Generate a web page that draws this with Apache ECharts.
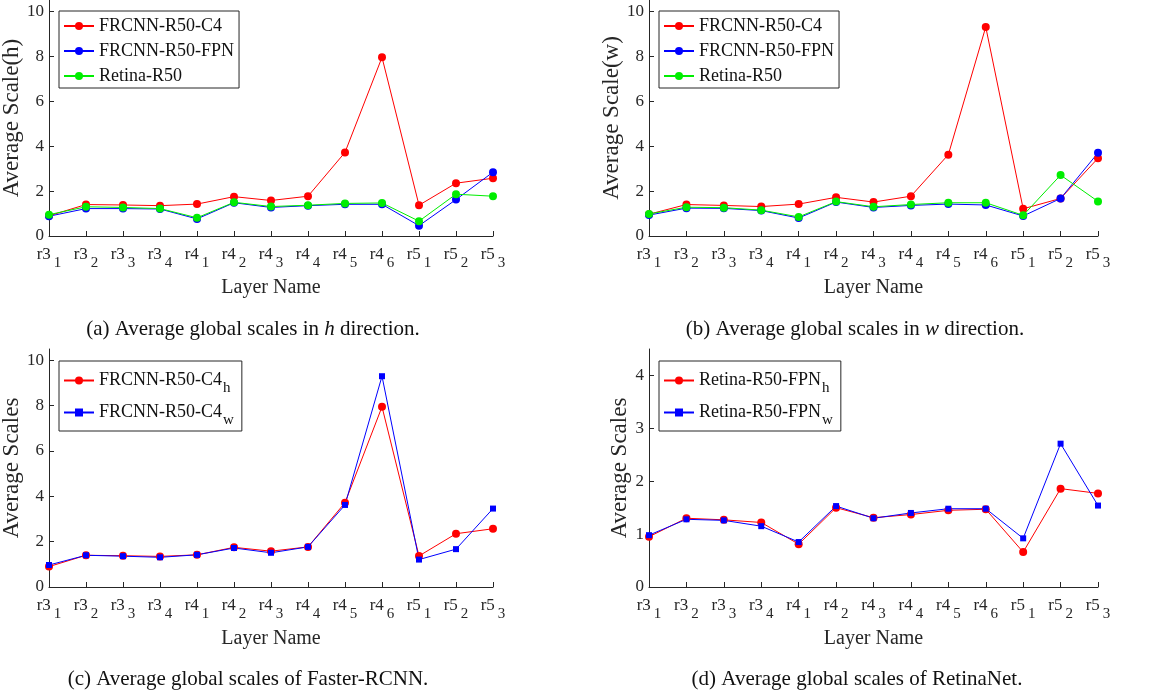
<!DOCTYPE html>
<html>
<head>
<meta charset="utf-8">
<title>Average global scales</title>
<script src="https://cdn.jsdelivr.net/npm/echarts@6.0.0/dist/echarts.min.js"></script>
<style>
  html, body { margin: 0; padding: 0; background: #fff; }
  #chartmain { width: 1173px; height: 692px; }
</style>
</head>
<body>
<div id="chartmain"></div>
<script>
// layer names (x axis), "_" marks the subscript
var layers = ['r3_1', 'r3_2', 'r3_3', 'r3_4', 'r4_1', 'r4_2', 'r4_3', 'r4_4', 'r4_5', 'r4_6', 'r5_1', 'r5_2', 'r5_3'];

// h direction
var c4H  = [0.90, 1.40, 1.38, 1.35, 1.42, 1.75, 1.58, 1.77, 3.72, 7.95, 1.37, 2.35, 2.57];
var fpnH = [0.88, 1.22, 1.22, 1.20, 0.76, 1.48, 1.27, 1.35, 1.41, 1.41, 0.46, 1.62, 2.84];
var retH = [0.95, 1.30, 1.27, 1.22, 0.81, 1.50, 1.31, 1.37, 1.45, 1.47, 0.66, 1.86, 1.77];

// w direction
var c4W  = [0.97, 1.40, 1.36, 1.31, 1.42, 1.72, 1.51, 1.77, 3.62, 9.30, 1.21, 1.67, 3.46];
var fpnW = [0.93, 1.24, 1.23, 1.13, 0.80, 1.51, 1.27, 1.36, 1.42, 1.38, 0.89, 1.67, 3.70];
var retW = [0.98, 1.28, 1.26, 1.15, 0.85, 1.53, 1.30, 1.40, 1.48, 1.48, 0.92, 2.71, 1.54];

// y tick labels
var ticksBig = [0, 2, 4, 6, 8, 10];
var ticksSmall = [0, 1, 2, 3, 4];

var FONT = "'Liberation Serif', 'Times New Roman', serif";
var INK = '#262626';

function xAxisOf(gi) {
    return {
        type: 'category', gridIndex: gi, data: layers, boundaryGap: false,
        name: 'Layer Name', nameLocation: 'middle', nameGap: 42,
        nameTextStyle: { fontFamily: FONT, fontSize: 20, color: INK },
        axisLine: { lineStyle: { color: INK, width: 1 } },
        axisTick: { inside: true, length: 5, alignWithLabel: true, lineStyle: { color: INK } },
        axisLabel: {
            interval: 0, margin: 10, color: INK,
            formatter: function (v) {
                var p = v.split('_');
                return '{b|' + p[0] + '}{s|' + p[1] + '}';
            },
            rich: {
                b: { fontFamily: FONT, fontSize: 17, lineHeight: 18, color: INK },
                s: { fontFamily: FONT, fontSize: 15, lineHeight: 16, padding: [16, 0, 0, 3], color: INK }
            }
        },
        splitLine: { show: false }
    };
}

function yAxisOf(gi, name, max, ticks, gap) {
    return {
        type: 'value', gridIndex: gi, min: 0, max: max,
        name: name, nameLocation: 'middle', nameGap: gap,
        nameTextStyle: { fontFamily: FONT, fontSize: 23, color: INK },
        axisLine: { show: true, lineStyle: { color: INK, width: 1 } },
        axisTick: { show: true, inside: true, length: 5, customValues: ticks, lineStyle: { color: INK } },
        axisLabel: { fontFamily: FONT, fontSize: 17, color: INK, margin: 5, customValues: ticks },
        splitLine: { show: false }
    };
}

function line(name, data, color, symbol, size, gi) {
    return {
        type: 'line', name: name, data: data,
        xAxisIndex: gi, yAxisIndex: gi,
        symbol: symbol, symbolSize: size, showSymbol: true,
        lineStyle: { color: color, width: 1 },
        itemStyle: { color: color },
        animation: false
    };
}

function legendOf(left, top, names, sub) {
    return {
        left: left, top: top, orient: 'vertical',
        data: names, selectedMode: false,
        itemWidth: 30, itemHeight: 10, itemGap: sub ? 1 : 7,
        padding: sub ? [4, 8, 3, 4] : [6, 5, 3, 4],
        borderColor: INK, borderWidth: 1, backgroundColor: '#fff',
        formatter: function (n) {
            var p = n.split('_');
            return p.length > 1 ? '{n|' + p[0] + '}{s|' + p[1] + '}' : '{n|' + n + '}';
        },
        textStyle: {
            rich: {
                n: { fontFamily: FONT, fontSize: 18, lineHeight: 20, color: '#111' },
                s: { fontFamily: FONT, fontSize: 15, lineHeight: 16, padding: [16, 0, 0, 1], color: '#111' }
            }
        }
    };
}

function caption(text, x, y) {
    return {
        text: text, left: x, top: y, textAlign: 'center', padding: 0,
        textStyle: {
            fontFamily: FONT, fontSize: 21, fontWeight: 'normal', color: '#111',
            rich: {
                r: { fontFamily: FONT, fontSize: 21, color: '#111' },
                i: { fontFamily: FONT, fontSize: 21, fontStyle: 'italic', color: '#111' }
            }
        }
    };
}

var option = {
    backgroundColor: '#fff',
    animation: false,
    title: [
        caption('{r|(a) Average global scales in }{i|h}{r| direction.}', 253, 319),
        caption('{r|(b) Average global scales in }{i|w}{r| direction.}', 855, 319),
        caption('(c) Average global scales of Faster-RCNN.', 248, 669),
        caption('(d) Average global scales of RetinaNet.', 857, 669)
    ],
    grid: [
        { left: 49, top: 0, width: 444, height: 236, outerBoundsMode: 'none' },
        { left: 649, top: 0, width: 449, height: 236, outerBoundsMode: 'none' },
        { left: 49, top: 349, width: 444, height: 238, outerBoundsMode: 'none' },
        { left: 649, top: 349, width: 449, height: 238, outerBoundsMode: 'none' }
    ],
    xAxis: [xAxisOf(0), xAxisOf(1), xAxisOf(2), xAxisOf(3)],
    yAxis: [
        yAxisOf(0, 'Average Scale(h)', 10.5, ticksBig, 17),
        yAxisOf(1, 'Average Scale(w)', 10.5, ticksBig, 17),
        yAxisOf(2, 'Average Scales', 10.5, ticksBig, 20),
        yAxisOf(3, 'Average Scales', 4.5, ticksSmall, 15)
    ],
    legend: [
        legendOf(59, 11, ['FRCNN-R50-C4', 'FRCNN-R50-FPN', 'Retina-R50'], false),
        legendOf(659, 11, ['FRCNN-R50-C4', 'FRCNN-R50-FPN', 'Retina-R50'], false),
        legendOf(59, 361, ['FRCNN-R50-C4_h', 'FRCNN-R50-C4_w'], true),
        legendOf(659, 361, ['Retina-R50-FPN_h', 'Retina-R50-FPN_w'], true)
    ],
    series: [
        // (a)
        line('FRCNN-R50-C4', c4H, '#ff0000', 'circle', 8, 0),
        line('FRCNN-R50-FPN', fpnH, '#0000ff', 'circle', 8, 0),
        line('Retina-R50', retH, '#00ee00', 'circle', 8, 0),
        // (b)
        line('FRCNN-R50-C4', c4W, '#ff0000', 'circle', 8, 1),
        line('FRCNN-R50-FPN', fpnW, '#0000ff', 'circle', 8, 1),
        line('Retina-R50', retW, '#00ee00', 'circle', 8, 1),
        // (c)
        line('FRCNN-R50-C4_h', c4H, '#ff0000', 'circle', 8, 2),
        line('FRCNN-R50-C4_w', c4W, '#0000ff', 'rect', 6, 2),
        // (d)
        line('Retina-R50-FPN_h', retH, '#ff0000', 'circle', 8, 3),
        line('Retina-R50-FPN_w', retW, '#0000ff', 'rect', 6, 3)
    ]
};

var myChart = echarts.init(document.getElementById('chartmain'));
myChart.setOption(option);
</script>
</body>
</html>
